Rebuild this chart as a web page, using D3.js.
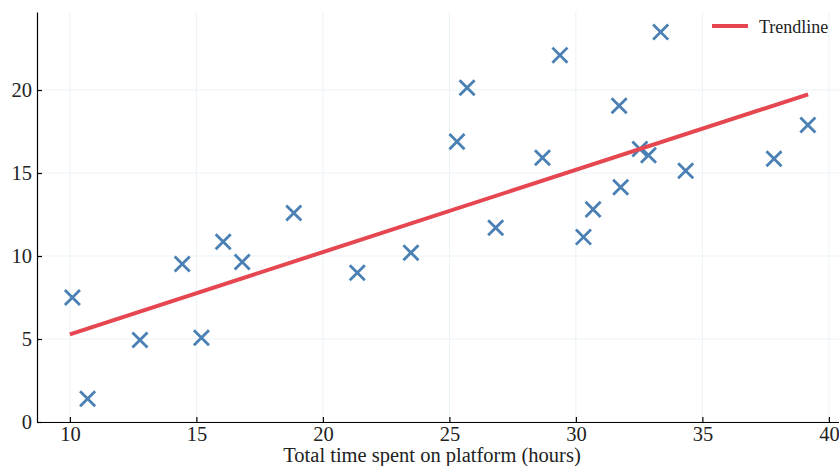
<!DOCTYPE html>
<html>
<head>
<meta charset="utf-8">
<script src="https://cdn.jsdelivr.net/npm/d3@7"></script>
<style>
  html, body { margin: 0; padding: 0; background: #fff; }
  svg { display: block; font-family: "Liberation Serif", "Times New Roman", serif; }
</style>
</head>
<body>
<svg id="chart" width="839" height="466"></svg>
<script>
// Data
const hours = [10.1, 10.7, 12.77, 14.44, 15.2, 16.06, 16.81, 18.85, 21.36, 23.48,
  25.3, 25.7, 26.83, 28.68, 29.37, 30.3, 30.68, 31.71, 31.77, 32.53,
  32.87, 33.35, 34.34, 37.83, 39.17];
const scores = [7.5, 1.4, 4.94, 9.52, 5.08, 10.86, 9.64, 12.59, 8.99, 10.2,
  16.89, 20.14, 11.7, 15.92, 22.1, 11.14, 12.81, 19.05, 14.14, 16.45,
  16.07, 23.49, 15.14, 15.86, 17.89];
const trendX = [10.0, 39.18];
const trendY = [5.28, 19.74];
const xTicks = [10, 15, 20, 25, 30, 35, 40];
const yTicks = [0, 5, 10, 15, 20];

const svg = d3.select("#chart");
const width = 839, height = 466;
const margin = { top: 12, right: 0, bottom: 44, left: 37 };

const x = d3.scaleLinear().domain([8.7, 40.4]).range([margin.left, width - margin.right]);
const y = d3.scaleLinear().domain([0, 24.7]).range([height - margin.bottom, margin.top]);

// faint grid
const grid = svg.append("g").attr("stroke", "#ebf3f6").attr("stroke-width", 1);
grid.selectAll(".gx").data(xTicks).join("line")
  .attr("x1", d => x(d)).attr("x2", d => x(d))
  .attr("y1", y.range()[0]).attr("y2", y.range()[1]);
grid.selectAll(".gy").data(yTicks).join("line")
  .attr("x1", x.range()[0]).attr("x2", x.range()[1])
  .attr("y1", d => y(d)).attr("y2", d => y(d));

// Axes (inward ticks)
const gx = svg.append("g")
  .attr("transform", `translate(0, ${y(0)})`)
  .call(d3.axisBottom(x).tickValues(xTicks).tickSize(-5).tickSizeOuter(0).tickPadding(4.5));
const gy = svg.append("g")
  .attr("transform", `translate(${margin.left}, 0)`)
  .call(d3.axisLeft(y).tickValues(yTicks).tickSize(-5).tickSizeOuter(0).tickPadding(5));

[gx, gy].forEach(g => {
  g.selectAll("path, line").attr("stroke", "#000").attr("stroke-width", 1.2);
  g.selectAll("text")
    .attr("fill", "#222")
    .style("font-family", "'Liberation Serif', serif")
    .style("font-size", "20.5px");
});

// X-axis label
svg.append("text")
  .attr("x", 432)
  .attr("y", 462)
  .attr("text-anchor", "middle")
  .attr("fill", "#222")
  .style("font-size", "20.5px")
  .text("Total time spent on platform (hours)");

// Scatter markers
const pts = hours.map((h, i) => ({ h, s: scores[i] }));
const xSym = d3.symbolX || {
  draw(ctx, size) {
    const r = Math.sqrt(size - Math.min(size / 6, 1.7)) * 0.6189;
    ctx.moveTo(-r, -r); ctx.lineTo(r, r);
    ctx.moveTo(-r, r); ctx.lineTo(r, -r);
  }
};
svg.append("g")
  .selectAll("path")
  .data(pts)
  .join("path")
  .attr("transform", d => `translate(${x(d.h)}, ${y(d.s)})`)
  .attr("d", d3.symbol(xSym, 150))
  .attr("fill", "none")
  .attr("stroke", "#4a80b4")
  .attr("stroke-width", 2.8);

// Trendline
const line = d3.line().x(d => x(d[0])).y(d => y(d[1]));
svg.append("path")
  .datum(trendX.map((t, i) => [t, trendY[i]]))
  .attr("d", line)
  .attr("fill", "none")
  .attr("stroke", "#e5464f")
  .attr("stroke-width", 4);

// Legend
const legend = svg.append("g").attr("transform", "translate(712, 26)");
legend.append("line")
  .attr("x1", 0).attr("x2", 36)
  .attr("stroke", "#e5464f")
  .attr("stroke-width", 4);
legend.append("text")
  .attr("x", 47)
  .attr("y", 6.5)
  .attr("fill", "#222")
  .style("font-size", "18px")
  .text("Trendline");
</script>
</body>
</html>
